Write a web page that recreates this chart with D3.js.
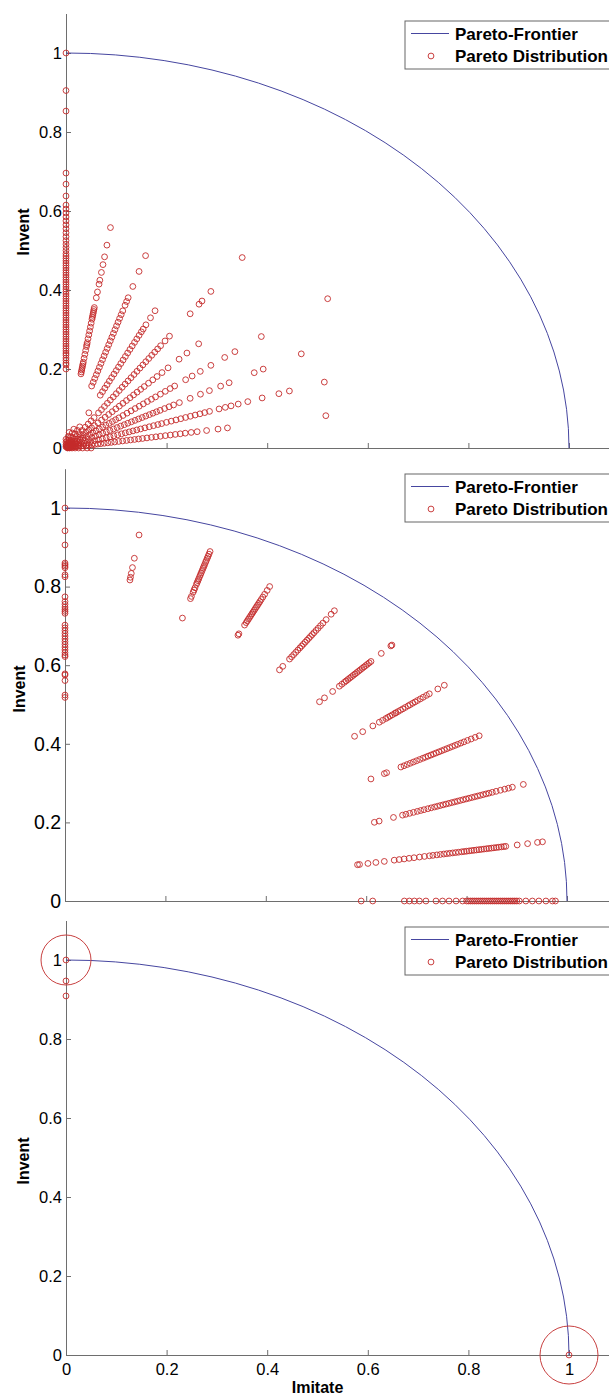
<!DOCTYPE html>
<html><head><meta charset="utf-8">
<script src="https://cdn.jsdelivr.net/npm/d3@7"></script>
<style>body{margin:0;background:#fff} svg{display:block}</style>
</head><body>
<script>
// ---------- DATA ----------
// rays of the Pareto distribution, angle in degrees (polar sampling directions)
const rayAngles = [0, 9, 18, 27, 36, 45, 54, 63, 72, 81, 90];

// Panel 1 (top): radii of points along each ray
const top_r00 = [0.003,0.007,0.012,0.018,0.025,0.033,0.042,0.05];
const top_r09 = [0.004,0.008,0.012,0.016,0.02,0.025,0.03,0.035,0.04,0.046,0.052,0.058,0.064,0.07,0.077,0.084,0.091,0.098,0.106,0.114,0.122,0.13,0.138,0.146,0.154,0.163,0.172,0.181,0.19,0.2,0.21,0.22,0.23,0.24,0.252,0.264,0.283,0.306,0.325,0.523];
const top_r18 = [0.004,0.009,0.014,0.02,0.026,0.032,0.038,0.045,0.052,0.06,0.068,0.076,0.084,0.092,0.1,0.108,0.116,0.124,0.132,0.14,0.148,0.156,0.165,0.174,0.183,0.192,0.2,0.21,0.22,0.23,0.24,0.25,0.26,0.27,0.28,0.29,0.3,0.32,0.333,0.345,0.36,0.38,0.41,0.445,0.467,0.54];
const top_r27 = [0.005,0.01,0.016,0.022,0.028,0.035,0.042,0.05,0.058,0.066,0.074,0.082,0.09,0.098,0.106,0.114,0.122,0.13,0.138,0.146,0.154,0.162,0.17,0.178,0.186,0.194,0.202,0.21,0.22,0.23,0.24,0.253,0.277,0.3,0.32,0.345,0.364,0.42,0.44,0.525];
const top_r36 = [0.005,0.01,0.016,0.022,0.028,0.035,0.042,0.05,0.058,0.066,0.074,0.082,0.09,0.098,0.106,0.114,0.122,0.13,0.14,0.15,0.16,0.17,0.18,0.19,0.2,0.21,0.22,0.232,0.244,0.256,0.267,0.294,0.31,0.33,0.356,0.39,0.415,0.48,0.643];
const top_r45 = [0.006,0.012,0.018,0.025,0.032,0.04,0.048,0.056,0.064,0.072,0.08,0.09,0.1,0.11,0.12,0.13,0.14,0.15,0.16,0.17,0.18,0.19,0.2,0.21,0.22,0.232,0.244,0.256,0.27,0.287,0.318,0.34,0.373];
const top_r54 = [0.006,0.012,0.02,0.028,0.036,0.045,0.055,0.065,0.075,0.085,0.095,0.11,0.12,0.13,0.14,0.15,0.16,0.17,0.18,0.19,0.2,0.21,0.22,0.23,0.24,0.25,0.26,0.27,0.28,0.29,0.3,0.31,0.32,0.335,0.35,0.42,0.45,0.46,0.49,0.596];
const top_r63 = [0.006,0.014,0.022,0.03,0.04,0.05,0.06,0.1,0.15,0.16,0.17,0.18,0.19,0.2,0.21,0.22,0.23,0.24,0.25,0.26,0.27,0.28,0.29,0.3,0.31,0.32,0.33,0.338,0.35,0.37,0.39];
const top_r72 = [0.006,0.014,0.022,0.03,0.04,0.05,0.165,0.175,0.185,0.195,0.205,0.215,0.225,0.235,0.245,0.255,0.265,0.275,0.285,0.295,0.305,0.315,0.325,0.335,0.345,0.355,0.365,0.38,0.39,0.4,0.43,0.47,0.512];
const top_r81 = [0.005,0.012,0.02,0.03,0.04,0.19,0.195,0.2,0.205,0.21,0.215,0.22,0.23,0.24,0.25,0.26,0.265,0.27,0.28,0.29,0.3,0.31,0.32,0.33,0.335,0.34,0.345,0.35,0.355,0.36,0.385,0.4,0.42,0.43,0.45,0.47,0.49,0.52,0.565];
const top_r90 = [0.003,0.008,0.015,0.022,0.2,0.21,0.215,0.222,0.228,0.235,0.24,0.246,0.252,0.258,0.264,0.27,0.276,0.282,0.288,0.294,0.3,0.306,0.312,0.318,0.324,0.33,0.336,0.342,0.348,0.354,0.36,0.366,0.372,0.378,0.384,0.39,0.396,0.402,0.408,0.414,0.42,0.426,0.432,0.438,0.444,0.45,0.456,0.462,0.468,0.474,0.48,0.486,0.492,0.5,0.508,0.516,0.525,0.535,0.545,0.555,0.565,0.575,0.585,0.595,0.605,0.615,0.638,0.668,0.696,0.853,0.905,1.0];

// Panel 2 (middle)
const mid_r00 = [0.59,0.613,0.676,0.686,0.696,0.706,0.719,0.739,0.752,0.765,0.779,0.792,0.8,0.804,0.808,0.812,0.816,0.82,0.824,0.828,0.832,0.836,0.84,0.844,0.848,0.852,0.856,0.86,0.864,0.868,0.872,0.876,0.88,0.884,0.888,0.892,0.896,0.9,0.905,0.918,0.931,0.944,0.958,0.971,0.977];
const mid_r09 = [0.59,0.594,0.611,0.627,0.644,0.664,0.674,0.684,0.694,0.704,0.715,0.725,0.735,0.742,0.75,0.757,0.764,0.77,0.776,0.782,0.788,0.794,0.8,0.805,0.81,0.815,0.82,0.825,0.83,0.835,0.84,0.845,0.85,0.855,0.86,0.865,0.87,0.875,0.88,0.885,0.889,0.912,0.933,0.953,0.963];
const mid_r18 = [0.648,0.658,0.688,0.707,0.714,0.722,0.73,0.738,0.745,0.752,0.76,0.767,0.774,0.78,0.786,0.792,0.798,0.804,0.81,0.816,0.822,0.828,0.834,0.84,0.846,0.852,0.858,0.864,0.87,0.876,0.882,0.888,0.895,0.903,0.912,0.921,0.929,0.937,0.96];
const mid_r27 = [0.684,0.714,0.719,0.751,0.758,0.765,0.772,0.779,0.786,0.793,0.8,0.806,0.812,0.818,0.824,0.83,0.836,0.842,0.848,0.854,0.86,0.866,0.872,0.878,0.885,0.892,0.9,0.908,0.917,0.926];
const mid_r36 = [0.713,0.733,0.758,0.774,0.782,0.79,0.795,0.8,0.806,0.812,0.815,0.82,0.826,0.832,0.838,0.845,0.85,0.856,0.862,0.868,0.875,0.882,0.89,0.897,0.918,0.934];
const mid_r45 = [0.717,0.731,0.754,0.773,0.78,0.787,0.792,0.797,0.802,0.807,0.812,0.817,0.822,0.827,0.832,0.837,0.842,0.847,0.852,0.857,0.862,0.891,0.918,0.921];
const mid_r54 = [0.727,0.738,0.761,0.768,0.775,0.782,0.789,0.796,0.802,0.808,0.814,0.82,0.826,0.832,0.838,0.844,0.851,0.858,0.866,0.874,0.885,0.902,0.913];
const mid_r63 = [0.759,0.763,0.788,0.795,0.8,0.805,0.81,0.815,0.82,0.825,0.83,0.835,0.84,0.845,0.85,0.855,0.861,0.868,0.876,0.887,0.898];
const mid_r72 = [0.757,0.809,0.815,0.826,0.832,0.838,0.847,0.852,0.857,0.862,0.868,0.873,0.878,0.884,0.89,0.895,0.9,0.906,0.911,0.917,0.922,0.928,0.935];
const mid_r81 = [0.827,0.834,0.844,0.859,0.883,0.943];
const mid_r90 = [1.0,0.942,0.906,0.86,0.856,0.852,0.848,0.83,0.825,0.774,0.762,0.755,0.748,0.742,0.737,0.732,0.702,0.695,0.688,0.681,0.674,0.667,0.66,0.653,0.646,0.639,0.632,0.626,0.622,0.578,0.575,0.561,0.524,0.518];

// Panel 3 (bottom): remaining points (Imitate, Invent)
const bottomImitate = [0, 0, 0, 1];
const bottomInvent  = [1, 0.947, 0.909, 0];
// highlighted extreme points
const highlightImitate = [0, 1];
const highlightInvent  = [1, 0];

const frontierRadius = 1;
const xTicks = [0, 0.2, 0.4, 0.6, 0.8, 1];
const yTicks = [0, 0.2, 0.4, 0.6, 0.8, 1];
const axisMax = 1.1;
const legendLabels = ["Pareto-Frontier", "Pareto Distribution"];
const xLabel = "Imitate", yLabel = "Invent";

const topRays = [top_r00,top_r09,top_r18,top_r27,top_r36,top_r45,top_r54,top_r63,top_r72,top_r81,top_r90];
const midRays = [mid_r00,mid_r09,mid_r18,mid_r27,mid_r36,mid_r45,mid_r54,mid_r63,mid_r72,mid_r81,mid_r90];

// ---------- DRAW ----------
const W = 609, H = 1396;
const FONT = "'Liberation Sans', Arial, sans-serif";
const AXIS_COLOR = "#6e6e6e";
const MARK_COLOR = "#c42a2a";
const LINE_COLOR = "#4646a0";

const svg = d3.select("body").append("svg").attr("width", W).attr("height", H)
  .style("font-family", FONT);

const panels = [
  {rays: topRays, x0: 66, unitX: 503, y0: 448, unitY: 395, font: 16.5, labFont: 16, labX: 29, labY: 232, legTop: 21, showX: false},
  {rays: midRays, x0: 65, unitX: 502, y0: 901, unitY: 393, font: 19.5, labFont: 16, labX: 25, labY: 689, legTop: 474, showX: false},
  {rays: null,    x0: 66, unitX: 503, y0: 1355, unitY: 395, font: 16.5, labFont: 16, labX: 29, labY: 1161, legTop: 927, showX: true}
];

const fmt = d3.format("~g");

panels.forEach((p, pi) => {
  const x = d3.scaleLinear().domain([0, axisMax]).range([p.x0, p.x0 + p.unitX * axisMax]);
  const y = d3.scaleLinear().domain([0, axisMax]).range([p.y0, p.y0 - p.unitY * axisMax]);
  const g = svg.append("g");

  if (pi > 0) {
    g.append("rect").attr("x", 0).attr("y", y(axisMax) - 12).attr("width", W)
      .attr("height", p.y0 - y(axisMax) + 12).attr("fill", "#fff");
  }

  const ya = g.append("g").attr("transform", `translate(${x(0)},0)`)
    .call(d3.axisLeft(y).tickValues(yTicks).tickFormat(fmt).tickSizeInner(-5).tickSizeOuter(0).tickPadding(4));
  const xa = g.append("g").attr("transform", `translate(0,${y(0)})`)
    .call(d3.axisBottom(x).tickValues(xTicks).tickFormat(p.showX ? fmt : () => "").tickSizeInner(-5).tickSizeOuter(0).tickPadding(8));
  [ya, xa].forEach(a => {
    a.attr("font-family", FONT).attr("font-size", p.font);
    a.selectAll("path.domain, line").attr("stroke", AXIS_COLOR);
    a.selectAll("text").attr("fill", "#000");
  });

  g.append("text").attr("transform", `translate(${p.labX},${p.labY}) rotate(-90)`)
    .attr("text-anchor", "middle").attr("font-weight", "bold").attr("font-size", p.labFont)
    .attr("fill", "#000").text(yLabel);
  if (p.showX) {
    g.append("text").attr("x", x(0.5)).attr("y", p.y0 + 38).attr("text-anchor", "middle")
      .attr("font-weight", "bold").attr("font-size", 16).attr("fill", "#000").text(xLabel);
  }

  g.append("path")
    .attr("d", `M${x(0)},${y(frontierRadius)} A${x(frontierRadius) - x(0)},${y(0) - y(frontierRadius)} 0 0 1 ${x(frontierRadius)},${y(0)}`)
    .attr("fill", "none").attr("stroke", LINE_COLOR).attr("stroke-width", 1);

  let pts = [];
  if (p.rays) {
    p.rays.forEach((radii, i) => {
      const t = rayAngles[i] * Math.PI / 180;
      radii.forEach(r => pts.push([r * Math.cos(t), r * Math.sin(t)]));
    });
  } else {
    bottomImitate.forEach((v, i) => pts.push([v, bottomInvent[i]]));
  }
  g.append("g").selectAll("circle").data(pts).join("circle")
    .attr("cx", d => x(d[0])).attr("cy", d => y(d[1])).attr("r", 2.9)
    .attr("fill", "none").attr("stroke", MARK_COLOR).attr("stroke-width", 0.9);

  if (!p.rays) {
    const hr = [25, 29];
    g.append("g").selectAll("circle").data(highlightImitate).join("circle")
      .attr("cx", d => x(d)).attr("cy", (d, i) => y(highlightInvent[i])).attr("r", (d, i) => hr[i])
      .attr("fill", "none").attr("stroke", "#c84040").attr("stroke-width", 1);
  }

  const lg = g.append("g").attr("transform", `translate(405,${p.legTop})`);
  lg.append("rect").attr("x", 0).attr("y", 0).attr("width", 240).attr("height", 48)
    .attr("fill", "#fff").attr("stroke", "#666").attr("stroke-width", 1);
  lg.append("line").attr("x1", 6).attr("x2", 44).attr("y1", 12.5).attr("y2", 12.5)
    .attr("stroke", LINE_COLOR).attr("stroke-width", 1);
  lg.append("circle").attr("cx", 26).attr("cy", 35).attr("r", 2.9)
    .attr("fill", "none").attr("stroke", MARK_COLOR).attr("stroke-width", 0.9);
  lg.selectAll("text").data(legendLabels).join("text")
    .attr("x", 50).attr("y", (d, i) => 18.5 + i * 22.5)
    .attr("font-size", 17).attr("font-weight", "bold").attr("fill", "#000").text(d => d);
});
</script>
</body></html>
